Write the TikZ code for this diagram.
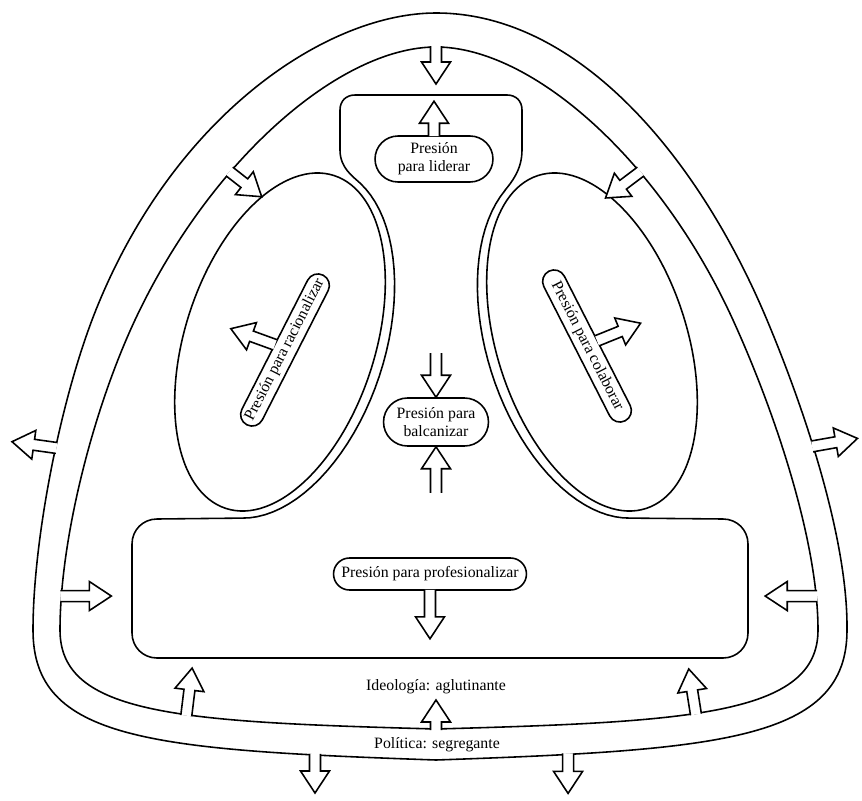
\documentclass[tikz,border=0pt]{standalone}
\usepackage{fontspec}
\setmainfont{Liberation Serif}
\usetikzlibrary{shapes.misc}

\tikzset{
    press/.style={rounded rectangle, draw, inner sep=2pt, align=center, font=\fontsize{9}{10.4}\selectfont},
    bandtext/.style={font=\fontsize{9}{10.4}\selectfont},
    pressure/.style={draw, fill=white, line join=miter},
}
\newcommand{\presarrow}[3]{\draw[pressure, shift={#1}, rotate=#2] (-1,-5.5) -- ({#3-22},-5.5) -- ({#3-22},-14.5) -- (#3,0) -- ({#3-22},14.5) -- ({#3-22},5.5) -- (-1,5.5);}

\begin{document}
\begin{tikzpicture}[x=0.02cm, y=-0.02cm, line width=0.9pt]
        \useasboundingbox (0,0) rectangle (862,801);

        \draw (436,13) .. controls (330,13) and (180,110) .. (100,300)
            .. controls (61,392) and (33,540) .. coordinate[pos=0.45] (outL) (33,630)
            .. controls (33,740) and (150,750) .. coordinate[pos=0.845] (outBL) (436,760)
            .. controls (722,750) and (847,740) .. coordinate[pos=0.17] (outBR) (847,630)
            .. controls (848,540) and (805.6,412) .. coordinate[pos=0.59] (outR) (767,320)
            .. controls (700,160) and (580,13) .. (436,13) -- cycle;
        \draw (436,47) coordinate (inTop) .. controls (340,47) and (210,160) .. coordinate[pos=0.65] (inUL) (135,320)
            .. controls (92.6,410.6) and (60,540) .. coordinate[pos=0.88] (inL) (60,630)
            .. controls (60,715) and (180,722) .. coordinate[pos=0.585] (inBL) (436,729) coordinate (inBC)
            .. controls (690,722) and (818,715) .. coordinate[pos=0.435] (inBR) (818,630)
            .. controls (818,540) and (774.5,411) .. coordinate[pos=0.12] (inR) (733,320)
            .. controls (660,160) and (532,47) .. coordinate[pos=0.35] (inUR) (436,47) -- cycle;

        \draw plot[domain=190:345, samples=40, variable=\t] ({280+182*cos(\t)*cos(72)-105*sin(\t)*sin(72)},{342-182*cos(\t)*sin(72)-105*sin(\t)*cos(72)})
            .. controls (352.9,176.4) and (340,168) .. (340,150) -- (340,110)
            .. controls (340,101) and (346,95) .. (355,95) -- (507,95)
            .. controls (516,95) and (522,101) .. (522,110) -- (522,150)
            .. controls (522,170) and (511.4,182.3) .. (504.9,190.4)
            -- plot[domain=340:190, samples=40, variable=\t] ({592-182*cos(\t)*cos(72)+105*sin(\t)*sin(72)},{342-182*cos(\t)*sin(72)-105*sin(\t)*cos(72)})
            -- (723,519) .. controls (737,519) and (748,530) .. (748,544)
            -- (748,633) .. controls (748,647) and (737,658) .. (723,658)
            -- (157,658) .. controls (143,658) and (132,647) .. (132,633)
            -- (132,544) .. controls (132,530) and (143,519) .. (157,519) -- cycle;

        \draw[rotate around={72:(280,342)}] (280,342) ellipse [x radius=175, y radius=95];
        \draw[rotate around={108:(592,342)}] (592,342) ellipse [x radius=175, y radius=95];

        \node[press, minimum width=2.5cm, minimum height=0.92cm] (lid) at (434,159) {Presión\\para liderar};
        \node[press, minimum width=2.24cm, minimum height=0.96cm] (bal) at (436,422) {Presión para\\balcanizar};
        \node[press, minimum width=4cm, minimum height=0.64cm] (prof) at (430,574) {Presión para profesionalizar};
        \node[press, rotate=63, minimum width=3.5cm, minimum height=0.46cm] (rac) at (285,350) {Presión para racionalizar};
        \node[press, rotate=-63, minimum width=3.5cm, minimum height=0.46cm] (col) at (587,346) {Presión para colaborar};
        \node[bandtext] (ideo) at (436,687) {Ideología: aglutinante};
        \node[bandtext] (pol) at (437,745) {Política: segregante};

        \presarrow{(inTop)}{-90}{37}
        \presarrow{(lid.north)}{90}{34}
        \presarrow{([yshift=0.86cm]bal.north)}{-90}{43}
        \presarrow{([yshift=-0.9cm]bal.south)}{90}{45}
        \presarrow{(prof.south)}{-90}{48}
        \presarrow{(rac.north)}{160}{46}
        \presarrow{(col.north)}{22}{46}
        \presarrow{(inUL)}{-38}{40}
        \presarrow{(inUR)}{-143}{43}
        \presarrow{(inL)}{0}{50}
        \presarrow{(inR)}{180}{51}
        \presarrow{(inBL)}{83}{47}
        \presarrow{(inBR)}{99}{45}
        \presarrow{(inBC)}{90}{29}
        \presarrow{(outL)}{172}{44}
        \presarrow{(outR)}{10}{45}
        \presarrow{(outBL)}{-90}{38}
        \presarrow{(outBR)}{-90}{39}
\end{tikzpicture}
\end{document}
